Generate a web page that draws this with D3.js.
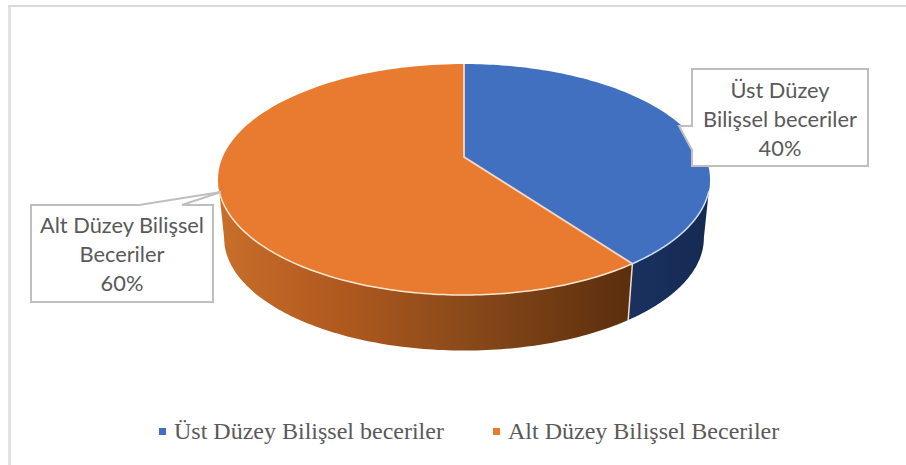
<!DOCTYPE html>
<html>
<head>
<meta charset="utf-8">
<script src="https://cdn.jsdelivr.net/npm/d3@7"></script>
<style>
  html, body { margin: 0; padding: 0; background: #fff; }
  svg { display: block; }
</style>
</head>
<body>
<div id="chart"></div>
<script>
'use strict';
var categories = ['Üst Düzey Bilişsel beceriler', 'Alt Düzey Bilişsel Beceriler'];
var values = [40, 60];
var topColors = ['#4270c0', '#e97b30'];
var calloutLines = [['Üst Düzey', 'Bilişsel beceriler', '40%'], ['Alt Düzey Bilişsel', 'Beceriler', '60%']];

var width = 906, height = 465;

var svg = d3.select('#chart').append('svg')
  .attr('width', width)
  .attr('height', height);

// side wall gradients
var defs = svg.append('defs');
function addGradient(id, stops) {
  var g = defs.append('linearGradient').attr('id', id)
    .attr('gradientUnits', 'userSpaceOnUse')
    .attr('x1', 218).attr('x2', 710).attr('y1', 0).attr('y2', 0);
  stops.forEach(function (s) {
    g.append('stop').attr('offset', s[0]).attr('stop-color', s[1]);
  });
}
addGradient('wallOrange', [[0, '#c96f2b'], [0.25, '#b0591f'], [0.5, '#8a4a1a'], [0.83, '#5c2f0e'], [1, '#5c2f0e']]);
addGradient('wallBlue', [[0.8, '#1b3364'], [1, '#152a52']]);

// frame, only top and left edges show in the picture
svg.append('path')
  .attr('d', 'M9.5,465V6')
  .attr('fill', 'none')
  .attr('stroke', '#e2e2e2')
  .attr('stroke-width', 3);
svg.append('path')
  .attr('d', 'M8,6H906')
  .attr('fill', 'none')
  .attr('stroke', '#d9d9d9')
  .attr('stroke-width', 2);

// perspective projection of the pie disc
var apexX = 464, apexY = 157;
var persp = 0.195, scaleY = 111.1, scaleX = 241.3;
var wallScale = 0.975, wallDrop = 59;

function project(angle, r, level) {
  var x = Math.sin(angle) * r, y = -Math.cos(angle) * r;
  var d = 1 - persp * y;
  var s = level ? wallScale : 1;
  return [apexX + s * scaleX * x / d, apexY + (level ? wallDrop : 0) + s * scaleY * y / d];
}

var line = d3.line();
var arcs = d3.pie().sort(null)(values);

function rimPoints(a0, a1, level) {
  return d3.range(0, 121).map(function (i) {
    return project(a0 + (a1 - a0) * i / 120, 1, level);
  });
}

// walls: front of each slice, the silhouette angle is where the rim is widest
var frontStart = Math.PI / 2 + Math.asin(persp), frontEnd = 3 * Math.PI / 2 - Math.asin(persp);
var walls = svg.append('g');
arcs.forEach(function (a, i) {
  var a0 = Math.max(a.startAngle, frontStart), a1 = Math.min(a.endAngle, frontEnd);
  var top = rimPoints(a0, a1, false);
  var bottom = rimPoints(a0, a1, true).reverse();
  walls.append('path')
    .attr('d', line(top.concat(bottom)) + 'Z')
    .attr('fill', 'url(#' + (i === 0 ? 'wallBlue' : 'wallOrange') + ')');
});

// seam between the two walls
var seam = arcs[0].endAngle;
walls.append('path')
  .attr('d', line([project(seam, 1, false), project(seam, 1, true)]))
  .attr('stroke', '#f0dcc8')
  .attr('stroke-width', 1.5);

// top faces
var faces = svg.append('g');
arcs.forEach(function (a, i) {
  var pts = [[apexX, apexY]].concat(rimPoints(a.startAngle, a.endAngle, false));
  faces.append('path')
    .attr('d', line(pts) + 'Z')
    .attr('fill', topColors[i]);
});

// light edges on top face
var edgeStroke = i => (i === 0 ? '#cfe0f5' : '#fde6d0');
arcs.forEach(function (a, i) {
  faces.append('path')
    .attr('d', line(rimPoints(Math.max(a.startAngle, frontStart + 0.1), Math.min(a.endAngle, frontEnd - 0.1), false)))
    .attr('fill', 'none')
    .attr('stroke', edgeStroke(i))
    .attr('stroke-width', 1.5);
});
faces.append('path')
  .attr('d', line([project(0, 1, false), [apexX, apexY], project(seam, 1, false)]))
  .attr('fill', 'none')
  .attr('stroke', '#f2d9c6')
  .attr('stroke-width', 1.8);

// callouts
var callouts = [
  { d: 'M692,69H868V166H692V150L679,126H692Z', cx: 780, y0: 98 },
  { d: 'M31,205H139L221,192L182,205H213V302H31Z', cx: 122, y0: 233 }
];
callouts.forEach(function (c, i) {
  svg.append('path')
    .attr('d', c.d)
    .attr('fill', '#fff')
    .attr('stroke', '#bfbfbf')
    .attr('stroke-width', 2);
  svg.append('text')
    .attr('font-family', 'Lato')
    .attr('font-size', 21.8)
    .attr('fill', '#595959')
    .attr('text-anchor', 'middle')
    .selectAll('tspan')
    .data(calloutLines[i])
    .join('tspan')
    .attr('x', c.cx)
    .attr('y', function (d, j) { return c.y0 + j * 29; })
    .text(function (d) { return d; });
});

// legend
var legendX = [159, 493];
var legend = svg.append('g').attr('font-family', 'Liberation Serif').attr('font-size', 24).attr('fill', '#595959');
categories.forEach(function (c, i) {
  legend.append('rect')
    .attr('x', legendX[i]).attr('y', 428)
    .attr('width', 7).attr('height', 7)
    .attr('fill', topColors[i]);
  legend.append('text')
    .attr('x', legendX[i] + 15).attr('y', 439)
    .text(c);
});
</script>
</body>
</html>
